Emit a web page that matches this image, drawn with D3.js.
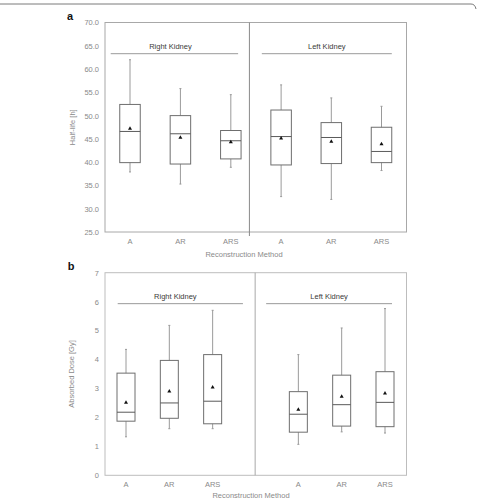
<!DOCTYPE html>
<html>
<head>
<meta charset="utf-8">
<script src="https://cdn.jsdelivr.net/npm/d3@7"></script>
<style>
  body { margin: 0; background: #fff; }
  text { font-family: "Liberation Sans", Arial, sans-serif; }
</style>
</head>
<body>
<div id="chart"></div>
<script>
// categories
const methods = ["A", "AR", "ARS"];
const kidneys = ["Right Kidney", "Left Kidney"];

// tick labels
const halfLifeTicks = [25, 30, 35, 40, 45, 50, 55, 60, 65, 70];
const doseTicks = [0, 1, 2, 3, 4, 5, 6, 7];

// order: Right A, AR, ARS, Left A, AR, ARS
const halfLifeMin    = [37.9, 35.3, 38.9, 32.6, 32.0, 38.2];
const halfLifeQ1     = [39.9, 39.6, 40.7, 39.4, 39.7, 39.9];
const halfLifeMedian = [46.6, 46.1, 44.6, 45.5, 45.3, 42.3];
const halfLifeQ3     = [52.4, 50.0, 46.8, 51.2, 48.5, 47.5];
const halfLifeMax    = [62.0, 55.8, 54.5, 56.6, 53.8, 52.0];
const halfLifeMean   = [47.2, 45.3, 44.3, 45.1, 44.4, 43.9];

const doseMin    = [1.33, 1.61, 1.61, 1.07, 1.50, 1.46];
const doseQ1     = [1.87, 1.97, 1.78, 1.49, 1.70, 1.68];
const doseMedian = [2.18, 2.50, 2.56, 2.11, 2.44, 2.52];
const doseQ3     = [3.53, 3.97, 4.17, 2.89, 3.46, 3.58];
const doseMax    = [4.35, 5.18, 5.70, 4.17, 5.09, 5.76];
const doseMean   = [2.51, 2.90, 3.04, 2.27, 2.72, 2.83];

const W = 477, H = 500;
const svg = d3.select("#chart").append("svg")
    .attr("width", W)
    .attr("height", H);

// page frame line at the top
svg.append("path")
    .attr("d", "M0,4 L471,4 Q475,4 476,9")
    .attr("fill", "none")
    .attr("stroke", "#7a7a7a")
    .attr("stroke-width", 1);

function rows(min, q1, med, q3, max, mean) {
    return min.map((d, i) => ({
        kidney: kidneys[Math.floor(i / 3)],
        method: methods[i % 3],
        min: d, q1: q1[i], med: med[i], q3: q3[i], max: max[i], mean: mean[i]
    }));
}

function drawPanel(p) {
    const g = svg.append("g");
    const y = d3.scaleLinear().domain(p.domain).range([p.bottom, p.top]);
    const div = p.left + (p.right - p.left) * p.divFrac;
    const groupRange = { "Right Kidney": [p.left, div], "Left Kidney": [div, p.right] };
    const x = {};
    kidneys.forEach((k, i) => {
        const [g0, g1] = groupRange[k];
        x[k] = d3.scalePoint().domain(methods)
            .range([g0 + p.pads[i][0], g1 - p.pads[i][1]]);
    });

    // frame
    g.append("rect")
        .attr("x", p.left).attr("y", p.top)
        .attr("width", p.right - p.left).attr("height", p.bottom - p.top)
        .attr("fill", "none").attr("stroke", p.frameColor).attr("stroke-width", 1);
    g.append("line")
        .attr("x1", div).attr("x2", div)
        .attr("y1", p.top).attr("y2", p.bottom + p.divExtra)
        .attr("stroke", p.divColor).attr("stroke-width", 1);

    // y axis
    const ya = g.append("g")
        .attr("transform", `translate(${p.left},0)`)
        .call(d3.axisLeft(y).tickValues(p.ticks).tickFormat(d3.format(p.fmt)).tickSize(0).tickPadding(6));
    ya.select(".domain").remove();
    ya.selectAll("text").attr("fill", "#8a8a8a").style("font-size", "7.5px")
        .style("font-family", "Liberation Sans, Arial, sans-serif");

    g.append("text")
        .attr("transform", `translate(${p.yLabelX},${(p.top + p.bottom) / 2}) rotate(-90)`)
        .attr("text-anchor", "middle")
        .attr("dy", "0.35em")
        .attr("fill", "#8a8a8a").style("font-size", "7.5px")
        .text(p.yLabel);

    // x tick labels
    kidneys.forEach(k => {
        g.selectAll(null).data(methods).enter().append("text")
            .attr("x", d => x[k](d))
            .attr("y", p.bottom + p.xTickDy)
            .attr("text-anchor", "middle")
            .attr("fill", "#8a8a8a").style("font-size", "7.5px")
            .text(d => d);
    });
    g.append("text")
        .attr("x", p.xLabelX).attr("y", p.bottom + p.xLabelDy)
        .attr("text-anchor", "middle")
        .attr("fill", "#8a8a8a").style("font-size", "7.5px")
        .text("Reconstruction Method");

    // group labels and lines
    kidneys.forEach((k, i) => {
        const [g0, g1] = groupRange[k];
        const x0 = g0 + p.lineInset[i][0], x1 = g1 - p.lineInset[i][1];
        g.append("line")
            .attr("x1", x0).attr("x2", x1)
            .attr("y1", y(p.groupLineAt)).attr("y2", y(p.groupLineAt))
            .attr("stroke", "#9a9a9a").attr("stroke-width", 1);
        g.append("text")
            .attr("x", (x0 + x1) / 2 + p.labelShift[i])
            .attr("y", y(p.groupLineAt) - 4.5)
            .attr("text-anchor", "middle")
            .attr("fill", "#3a3a3a").style("font-size", "7.5px")
            .text(k);
    });

    // panel letter
    g.append("text")
        .attr("x", p.letterX).attr("y", p.letterY)
        .attr("text-anchor", "middle")
        .attr("fill", "#111").style("font-size", "11px").style("font-weight", "bold")
        .text(p.letter);

    // boxes
    const bw = p.boxWidth;
    const boxes = g.selectAll(".box").data(p.data).enter().append("g").attr("class", "box")
        .attr("transform", d => `translate(${x[d.kidney](d.method)},0)`);
    boxes.append("line")
        .attr("x1", 0).attr("x2", 0)
        .attr("y1", d => y(d.max)).attr("y2", d => y(d.q3))
        .attr("stroke", "#9a9a9a");
    boxes.append("line")
        .attr("x1", 0).attr("x2", 0)
        .attr("y1", d => y(d.q1)).attr("y2", d => y(d.min))
        .attr("stroke", "#9a9a9a");
    [["max"], ["min"]].forEach(([key]) => {
        boxes.append("line")
            .attr("x1", -1).attr("x2", 1)
            .attr("y1", d => y(d[key])).attr("y2", d => y(d[key]))
            .attr("stroke", "#9a9a9a");
    });
    boxes.append("rect")
        .attr("x", -bw / 2).attr("width", bw)
        .attr("y", d => y(d.q3)).attr("height", d => y(d.q1) - y(d.q3))
        .attr("fill", "none").attr("stroke", "#6e6e6e").attr("stroke-width", 1);
    boxes.append("line")
        .attr("x1", -bw / 2).attr("x2", bw / 2)
        .attr("y1", d => y(d.med)).attr("y2", d => y(d.med))
        .attr("stroke", "#5a5a5a").attr("stroke-width", 1);
    boxes.append("path")
        .attr("d", d3.symbol(d3.symbolTriangle).size(7))
        .attr("transform", d => `translate(0,${y(d.mean)})`)
        .attr("fill", "#111");
}

drawPanel({
    letter: "a", letterX: 70, letterY: 20,
    data: rows(halfLifeMin, halfLifeQ1, halfLifeMedian, halfLifeQ3, halfLifeMax, halfLifeMean),
    domain: [25, 70], ticks: halfLifeTicks, fmt: ".1f",
    left: 105, right: 406.5, top: 22.5, bottom: 232,
    divFrac: 0.479, divExtra: 4,
    pads: [[25, 18.6], [31.7, 25]],
    lineInset: [[5.7, 11.3], [12.4, 14.7]], labelShift: [-4, 0],
    groupLineAt: 63.3,
    frameColor: "#a8a8a8", divColor: "#8a8a8a",
    boxWidth: 20.5,
    yLabel: "Half-life [h]", yLabelX: 72,
    xTickDy: 12, xLabelX: 244, xLabelDy: 25
});

drawPanel({
    letter: "b", letterX: 71, letterY: 269.5,
    data: rows(doseMin, doseQ1, doseMedian, doseQ3, doseMax, doseMean),
    domain: [0, 7], ticks: doseTicks, fmt: "d",
    left: 105, right: 406.5, top: 272.7, bottom: 475.3,
    divFrac: 0.498, divExtra: 0,
    pads: [[21, 42.5], [43.2, 21.5]],
    lineInset: [[12.7, 12.2], [11, 14.5]], labelShift: [-5, 0],
    groupLineAt: 5.93,
    frameColor: "#bdbdbd", divColor: "#a8a8a8",
    boxWidth: 18,
    yLabel: "Absorbed Dose [Gy]", yLabelX: 71.7,
    xTickDy: 11.5, xLabelX: 251, xLabelDy: 23
});
</script>
</body>
</html>
